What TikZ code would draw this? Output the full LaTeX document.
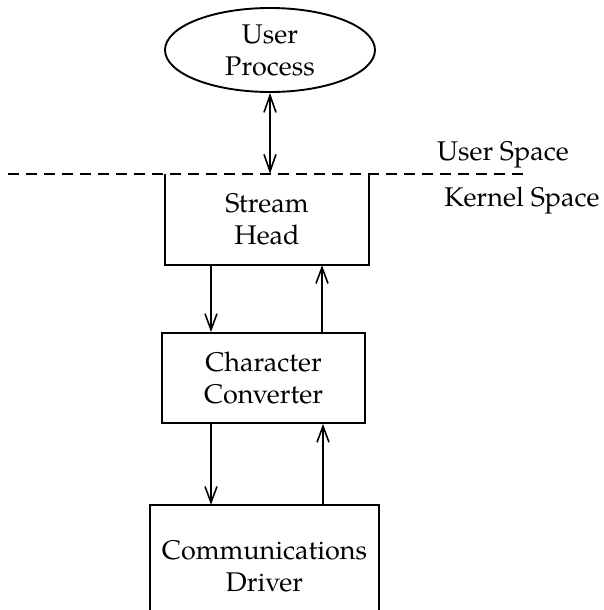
\documentclass[tikz,border=0pt]{standalone}
\usepackage{fontspec}
\setmainfont{TeX Gyre Pagella}
\usetikzlibrary{shapes.geometric,arrows.meta,calc}
\begin{document}
\begin{tikzpicture}[x=1pt,y=-1pt,
  every node/.style={font=\fontsize{27}{32}\selectfont, align=center, inner sep=0pt},
  line/.style={line width=1.9pt},
  tip/.style={},
  arr/.style={line width=1.9pt, -{Straight Barb[length=16pt,width=12pt,line width=1.6pt]}},
  darr/.style={line width=1.9pt, {Straight Barb[length=17pt,width=12pt,line width=1.6pt]}-{Straight Barb[length=17pt,width=12pt,line width=1.6pt]}}
]
\useasboundingbox (0,0) rectangle (603,610);
% nodes
\node[ellipse, draw, line width=1.9pt, minimum width=210pt, minimum height=84pt] (user) at (270,50) {User\\Process};
\node[rectangle, minimum width=204pt, minimum height=91pt] (sh) at (267,219.5) {Stream\\Head};
\node[rectangle, draw, line width=1.9pt, minimum width=203pt, minimum height=90pt] (cc) at (263.5,378) {Character\\Converter};
\node[rectangle, minimum width=229pt, minimum height=122pt] (cd) at (264.5,566) {Communications\\Driver};
\node (us) at (503,155) {User Space};
\node (ks) at (522,200) {Kernel Space};
\coordinate (dl) at (8,174);
\coordinate (dr) at (523,174);
\coordinate (bot) at (0,610);
% dashed boundary
\draw[line, dash pattern=on 11pt off 7pt] (dl) -- (dr);
% stream head open-top box
\draw[line] (sh.north west) -- (sh.south west) -- (sh.south east) -- (sh.north east);
% communications driver open-bottom box
\draw[line] (cd.north west |- bot) -- (cd.north west) -- (cd.north east) -- (cd.north east |- bot);
% connectors
\draw[darr] (user.south) -- (user.south |- sh.north);
\draw[arr] ([xshift=-56pt]sh.south) -- ([xshift=-56pt]sh.south |- cc.north);
\draw[arr] ([xshift=55pt]sh.south |- cc.north) -- ([xshift=55pt]sh.south);
\draw[arr] ([xshift=-52.5pt]cc.south) -- ([xshift=-52.5pt]cc.south |- cd.north);
\draw[arr] ([xshift=59.5pt]cc.south |- cd.north) -- ([xshift=59.5pt]cc.south);
\end{tikzpicture}
\end{document}
